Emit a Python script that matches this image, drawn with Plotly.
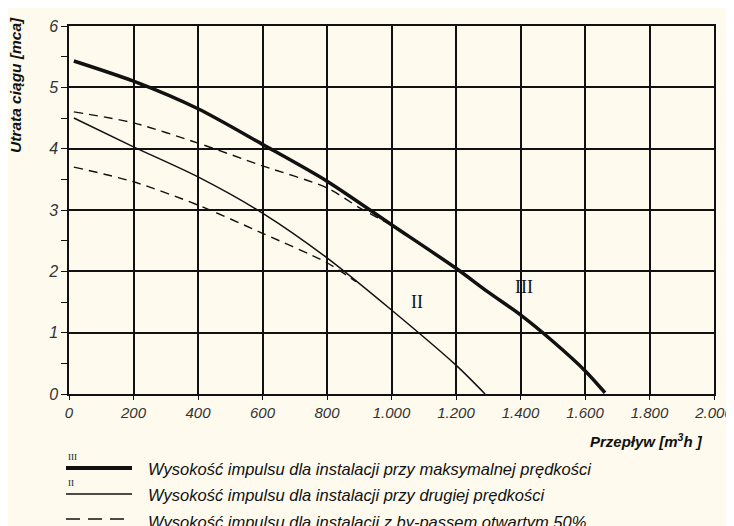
import plotly.graph_objects as go

# ---- data ----
x_max_speed = [15, 200, 400, 600, 800, 1000, 1200, 1300, 1400, 1500, 1600, 1662]
y_max_speed = [5.43, 5.10, 4.65, 4.07, 3.47, 2.76, 2.05, 1.66, 1.29, 0.86, 0.38, 0.02]

x_second_speed = [15, 200, 400, 600, 800, 1000, 1200, 1290]
y_second_speed = [4.50, 4.03, 3.54, 2.95, 2.22, 1.37, 0.47, 0.0]

x_bypass_max = [15, 200, 400, 600, 800, 900, 990]
y_bypass_max = [4.60, 4.42, 4.09, 3.72, 3.36, 3.04, 2.78]

x_bypass_second = [15, 200, 400, 600, 800, 890]
y_bypass_second = [3.70, 3.46, 3.08, 2.62, 2.14, 1.83]

x_tick_vals = [0, 200, 400, 600, 800, 1000, 1200, 1400, 1600, 1800, 2000]
x_tick_text = ["0", "200", "400", "600", "800", "1.000", "1.200", "1.400", "1.600", "1.800", "2.000"]
y_tick_vals = [0, 1, 2, 3, 4, 5, 6]
y_tick_text = ["0", "1", "2", "3", "4", "5", "6"]

legend_labels = [
    "Wysokość impulsu dla instalacji przy maksymalnej prędkości",
    "Wysokość impulsu dla instalacji przy drugiej prędkości",
    "Wysokość impulsu dla instalacji z by-passem otwartym 50%.",
]
legend_marks = ["III", "II", ""]

BG = "#FEFAEE"
INK = "#111111"
SANS = "Liberation Sans, Arial, sans-serif"
SERIF = "Liberation Serif, Times New Roman, serif"

# the page body has an 8px margin; work in window pixels and shift
OFF = 8
FW, FH = 734 - OFF, 526 - OFF
L, R, T, B = 69 - OFF, 714 - OFF, 26 - OFF, 394 - OFF
W, H = R - L, B - T
def px(xp):
    return (xp - OFF - L) / W
def py(yp):
    return (B - (yp - OFF)) / H

fig = go.Figure()
fig.add_trace(go.Scatter(x=x_bypass_max, y=y_bypass_max, mode="lines",
                         line=dict(color=INK, width=1.4, dash="9px,6px", shape="spline", smoothing=0.8),
                         showlegend=False, hoverinfo="skip"))
fig.add_trace(go.Scatter(x=x_bypass_second, y=y_bypass_second, mode="lines",
                         line=dict(color=INK, width=1.4, dash="9px,6px", shape="spline", smoothing=0.8),
                         showlegend=False, hoverinfo="skip"))
fig.add_trace(go.Scatter(x=x_second_speed, y=y_second_speed, mode="lines",
                         line=dict(color=INK, width=1.5, shape="spline", smoothing=0.8),
                         showlegend=False, hoverinfo="skip"))
fig.add_trace(go.Scatter(x=x_max_speed, y=y_max_speed, mode="lines",
                         line=dict(color=INK, width=3.5, shape="spline", smoothing=0.8),
                         showlegend=False, hoverinfo="skip"))

# curve labels
fig.add_annotation(x=1080, y=1.5, text="II", showarrow=False,
                   font=dict(family=SERIF, size=18, color=INK))
fig.add_annotation(x=1410, y=1.75, text="III", showarrow=False,
                   font=dict(family=SERIF, size=18, color=INK))

# axis titles
fig.add_annotation(xref="paper", yref="paper", x=px(705), y=py(440), xanchor="right", yanchor="middle",
                   text="<b><i>Przepływ [m<sup>3</sup>h ]</i></b>", showarrow=False,
                   font=dict(family=SANS, size=15, color=INK))
fig.add_annotation(xref="paper", yref="paper", x=px(16), y=py(15), xanchor="center", yanchor="top",
                   text="<b><i>Utrata ciągu [mca]</i></b>", showarrow=False, textangle=-90,
                   font=dict(family=SANS, size=15.5, color=INK))

# custom legend below the plot
rows_y = [468, 494, 519]
text_y = [469, 495, 522]
widths = [4, 1.5, 1.5]
dashes = ["solid", "solid", "14px,8px"]
for i, (lab, mark) in enumerate(zip(legend_labels, legend_marks)):
    fig.add_shape(type="line", xref="paper", yref="paper",
                  x0=px(66), x1=px(132), y0=py(rows_y[i]), y1=py(rows_y[i]),
                  line=dict(color=INK, width=widths[i], dash=dashes[i]))
    if mark:
        fig.add_annotation(xref="paper", yref="paper", x=px(66), y=py(rows_y[i] - 11),
                           xanchor="left", yanchor="middle", text=mark, showarrow=False,
                           font=dict(family=SERIF, size=9, color=INK))
    fig.add_annotation(xref="paper", yref="paper", x=px(146), y=py(text_y[i]),
                       xanchor="left", yanchor="middle", text="<i>" + lab + "</i>", showarrow=False,
                       font=dict(family=SANS, size=16.5, color=INK))

fig.update_layout(
    width=FW, height=FH,
    margin=dict(l=L, r=FW - R, t=T, b=FH - B, autoexpand=False),
    paper_bgcolor=BG, plot_bgcolor=BG,
    showlegend=False,
)
fig.update_xaxes(range=[0, 2000], tickvals=x_tick_vals,
                 ticktext=["<i>" + t + "</i>" for t in x_tick_text],
                 showgrid=True, gridcolor=INK, gridwidth=1.5,
                 showline=True, linecolor=INK, linewidth=1.5, mirror=True,
                 ticks="outside", ticklen=4, tickcolor=INK,
                 tickfont=dict(family=SANS, size=15, color="#333333"),
                 zeroline=False)
fig.update_yaxes(range=[0, 6], tickvals=y_tick_vals,
                 ticktext=["<i>" + t + "</i>" for t in y_tick_text],
                 showgrid=True, gridcolor=INK, gridwidth=1.5,
                 showline=True, linecolor=INK, linewidth=1.5, mirror=True,
                 ticks="outside", ticklen=6, tickcolor=INK,
                 minor=dict(dtick=0.5, ticks="outside", ticklen=6, tickcolor=INK, showgrid=False),
                 tickfont=dict(family=SANS, size=16, color="#333333"),
                 zeroline=False)

fig.write_html("out.html")
